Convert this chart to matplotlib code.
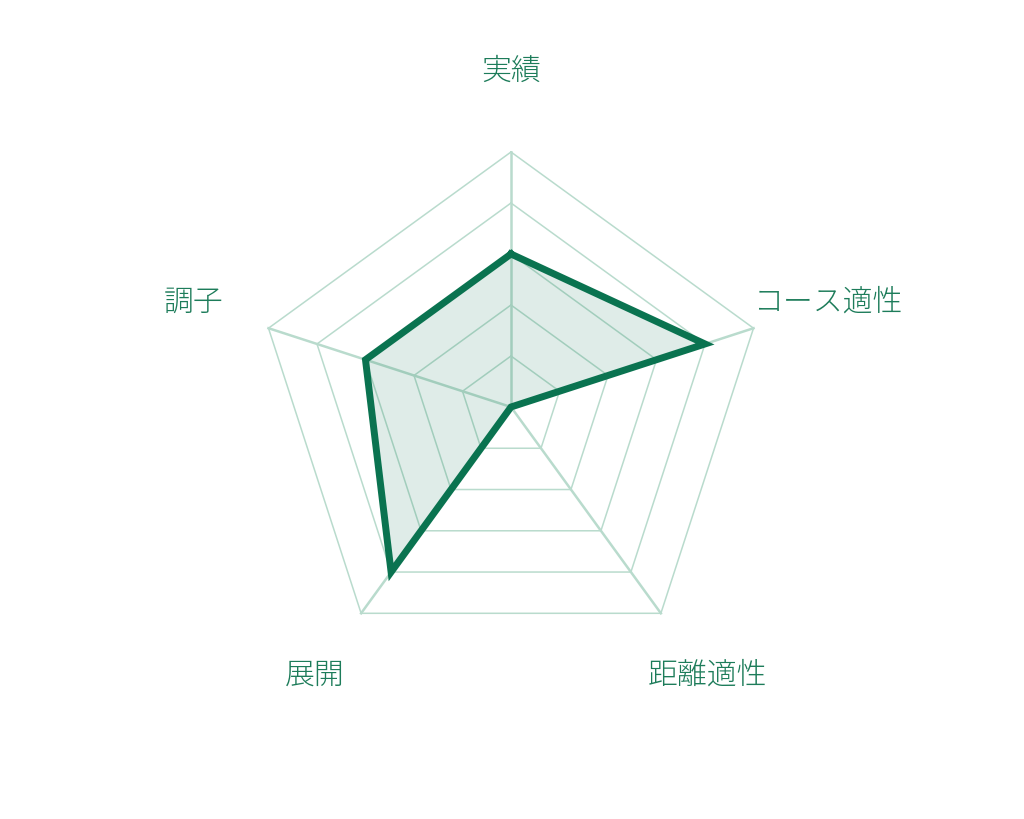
import numpy as np
import matplotlib
matplotlib.use("Agg")
import matplotlib.pyplot as plt

plt.rcParams['font.family'] = ['Noto Sans CJK JP', 'DejaVu Sans']

# radar data
labels = ['実績', 'コース適性', '距離適性', '展開', '調子']
values = [3, 4, 0, 4, 3]
levels = [1, 2, 3, 4, 5]
rmax = 5

line_color = '#0a7350'
fill_color = '#0a7350'
grid_color = '#b9dbcd'
text_color = '#1d7c5a'

n = len(labels)
angles = np.pi / 2 - np.arange(n) * 2 * np.pi / n

fig = plt.figure(figsize=(10.24, 8.2), dpi=100)
ax = fig.add_axes([0, 0, 1, 1])
scale = 255 / rmax
ax.set_xlim(-511 / scale, (1024 - 511) / scale)
ax.set_ylim(-412 / scale, 408 / scale)
ax.set_aspect('equal')
ax.axis('off')

# pentagon grid
for lv in levels:
    xs = lv * np.cos(angles)
    ys = lv * np.sin(angles)
    ax.plot(np.append(xs, xs[0]), np.append(ys, ys[0]), color=grid_color,
            lw=1.1, zorder=1)

# spokes
for a in angles:
    ax.plot([0, rmax * np.cos(a)], [0, rmax * np.sin(a)], color=grid_color,
            lw=1.8, zorder=1)

# data polygon
vals = np.array(values, dtype=float)
px = vals * np.cos(angles)
py = vals * np.sin(angles)
ax.fill(px, py, color=fill_color, alpha=0.13, lw=0, zorder=2)
ax.plot(np.append(px, px[0]), np.append(py, py[0]), color=line_color,
        lw=5, solid_joinstyle='miter', zorder=3)

# labels
label_r = 6.55
for lab, a in zip(labels, angles):
    ax.text(label_r * np.cos(a), label_r * np.sin(a) + 0.05, lab,
            color=text_color, fontsize=21.5, fontweight='light',
            ha='center', va='center')

fig.savefig('out.png', dpi=100)
